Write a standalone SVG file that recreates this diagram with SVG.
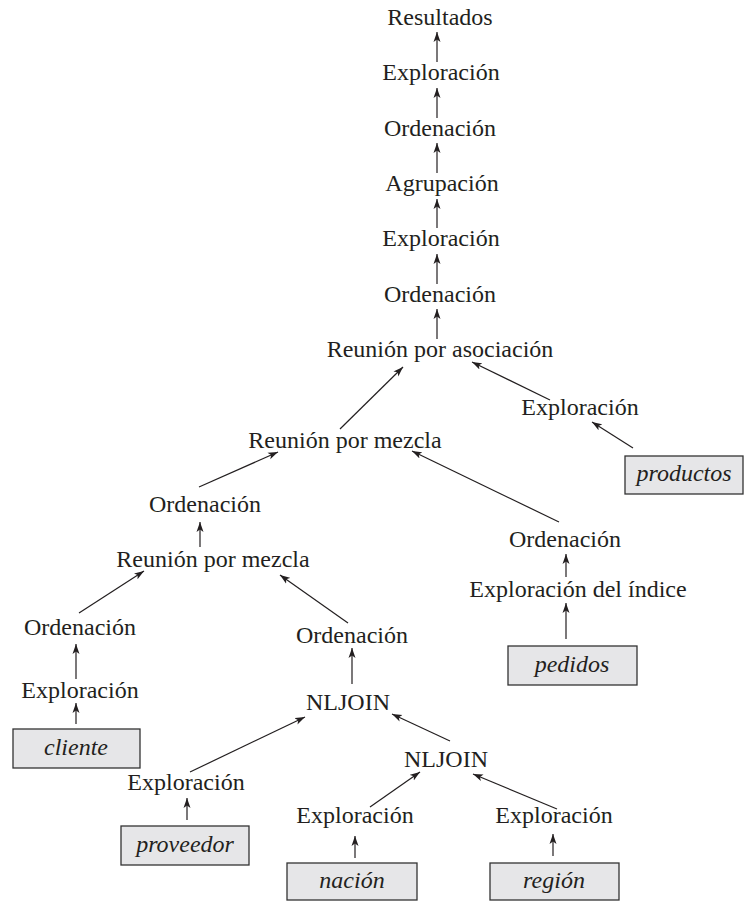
<svg xmlns="http://www.w3.org/2000/svg" width="745" height="902" viewBox="0 0 745 902">
<style>
text{font-family:"Liberation Serif","Times New Roman",serif;font-size:24px;fill:#231f20;text-anchor:middle}
.rel text{font-style:italic}
.rel rect{fill:#e6e6e8;stroke:#333;stroke-width:1.3}
#edges line{stroke:#231f20;stroke-width:1.2;marker-end:url(#ah)}
</style>
<defs>
<marker id="ah" markerUnits="userSpaceOnUse" markerWidth="11" markerHeight="8" refX="10" refY="4" orient="auto">
<path d="M0,0.5 L10,4 L0,7.5 L2.5,4 z" fill="#231f20"/>
</marker>
</defs>
<rect width="745" height="902" fill="#fff"/>
<g id="edges">
<line x1="437" y1="62" x2="437" y2="32"/>
<line x1="437" y1="118" x2="437" y2="88"/>
<line x1="437" y1="173" x2="437" y2="143"/>
<line x1="437" y1="228" x2="437" y2="199"/>
<line x1="437" y1="284" x2="437" y2="254"/>
<line x1="437" y1="339" x2="437" y2="309"/>
<line x1="340" y1="429" x2="403" y2="367"/>
<line x1="550" y1="400" x2="472" y2="362"/>
<line x1="633" y1="448" x2="592" y2="422"/>
<line x1="199" y1="487" x2="278" y2="452"/>
<line x1="559" y1="522" x2="412" y2="451"/>
<line x1="566" y1="577" x2="566" y2="554"/>
<line x1="566" y1="639" x2="566" y2="603"/>
<line x1="200" y1="547" x2="200" y2="522"/>
<line x1="79" y1="613" x2="144" y2="571"/>
<line x1="348" y1="623" x2="280" y2="575"/>
<line x1="76" y1="679" x2="76" y2="644"/>
<line x1="76" y1="724" x2="76" y2="703"/>
<line x1="352" y1="684" x2="352" y2="648"/>
<line x1="190" y1="772" x2="305" y2="717"/>
<line x1="450" y1="741" x2="392" y2="714"/>
<line x1="187" y1="820" x2="187" y2="798"/>
<line x1="370" y1="807" x2="420" y2="772"/>
<line x1="557" y1="809" x2="473" y2="774"/>
<line x1="355" y1="858" x2="355" y2="836"/>
<line x1="553" y1="856" x2="553" y2="834"/>
</g>
<g id="resultados"><text x="440" y="25">Resultados</text></g>
<g id="exploracion1"><text x="441" y="80">Exploración</text></g>
<g id="ordenacion1"><text x="440" y="136">Ordenación</text></g>
<g id="agrupacion"><text x="442" y="191">Agrupación</text></g>
<g id="exploracion2"><text x="441" y="246">Exploración</text></g>
<g id="ordenacion2"><text x="440" y="302">Ordenación</text></g>
<g id="reunion-asoc"><text x="440" y="357">Reunión por asociación</text></g>
<g id="exploracion-productos"><text x="580" y="415">Exploración</text></g>
<g id="productos" class="rel"><rect x="625" y="456" width="118" height="38"/><text x="684" y="481">productos</text></g>
<g id="reunion-mezcla1"><text x="345" y="448">Reunión por mezcla</text></g>
<g id="ordenacion3"><text x="205" y="512">Ordenación</text></g>
<g id="ordenacion-pedidos"><text x="565" y="547">Ordenación</text></g>
<g id="exploracion-indice"><text x="578" y="597">Exploración del índice</text></g>
<g id="pedidos" class="rel"><rect x="508" y="646" width="129" height="39"/><text x="572" y="672">pedidos</text></g>
<g id="reunion-mezcla2"><text x="213" y="567">Reunión por mezcla</text></g>
<g id="ordenacion-cliente"><text x="80" y="635">Ordenación</text></g>
<g id="exploracion-cliente"><text x="80" y="698">Exploración</text></g>
<g id="cliente" class="rel"><rect x="13" y="729" width="127" height="39"/><text x="76" y="755">cliente</text></g>
<g id="ordenacion-nljoin"><text x="352" y="643">Ordenación</text></g>
<g id="nljoin1"><text x="348" y="710">NLJOIN</text></g>
<g id="exploracion-proveedor"><text x="186" y="790">Exploración</text></g>
<g id="proveedor" class="rel"><rect x="121" y="826" width="128" height="39"/><text x="185" y="852">proveedor</text></g>
<g id="nljoin2"><text x="446" y="767">NLJOIN</text></g>
<g id="exploracion-nacion"><text x="355" y="823">Exploración</text></g>
<g id="nacion" class="rel"><rect x="287" y="863" width="130" height="37"/><text x="352" y="888">nación</text></g>
<g id="exploracion-region"><text x="554" y="823">Exploración</text></g>
<g id="region" class="rel"><rect x="490" y="863" width="129" height="37"/><text x="554" y="888">región</text></g>
</svg>
